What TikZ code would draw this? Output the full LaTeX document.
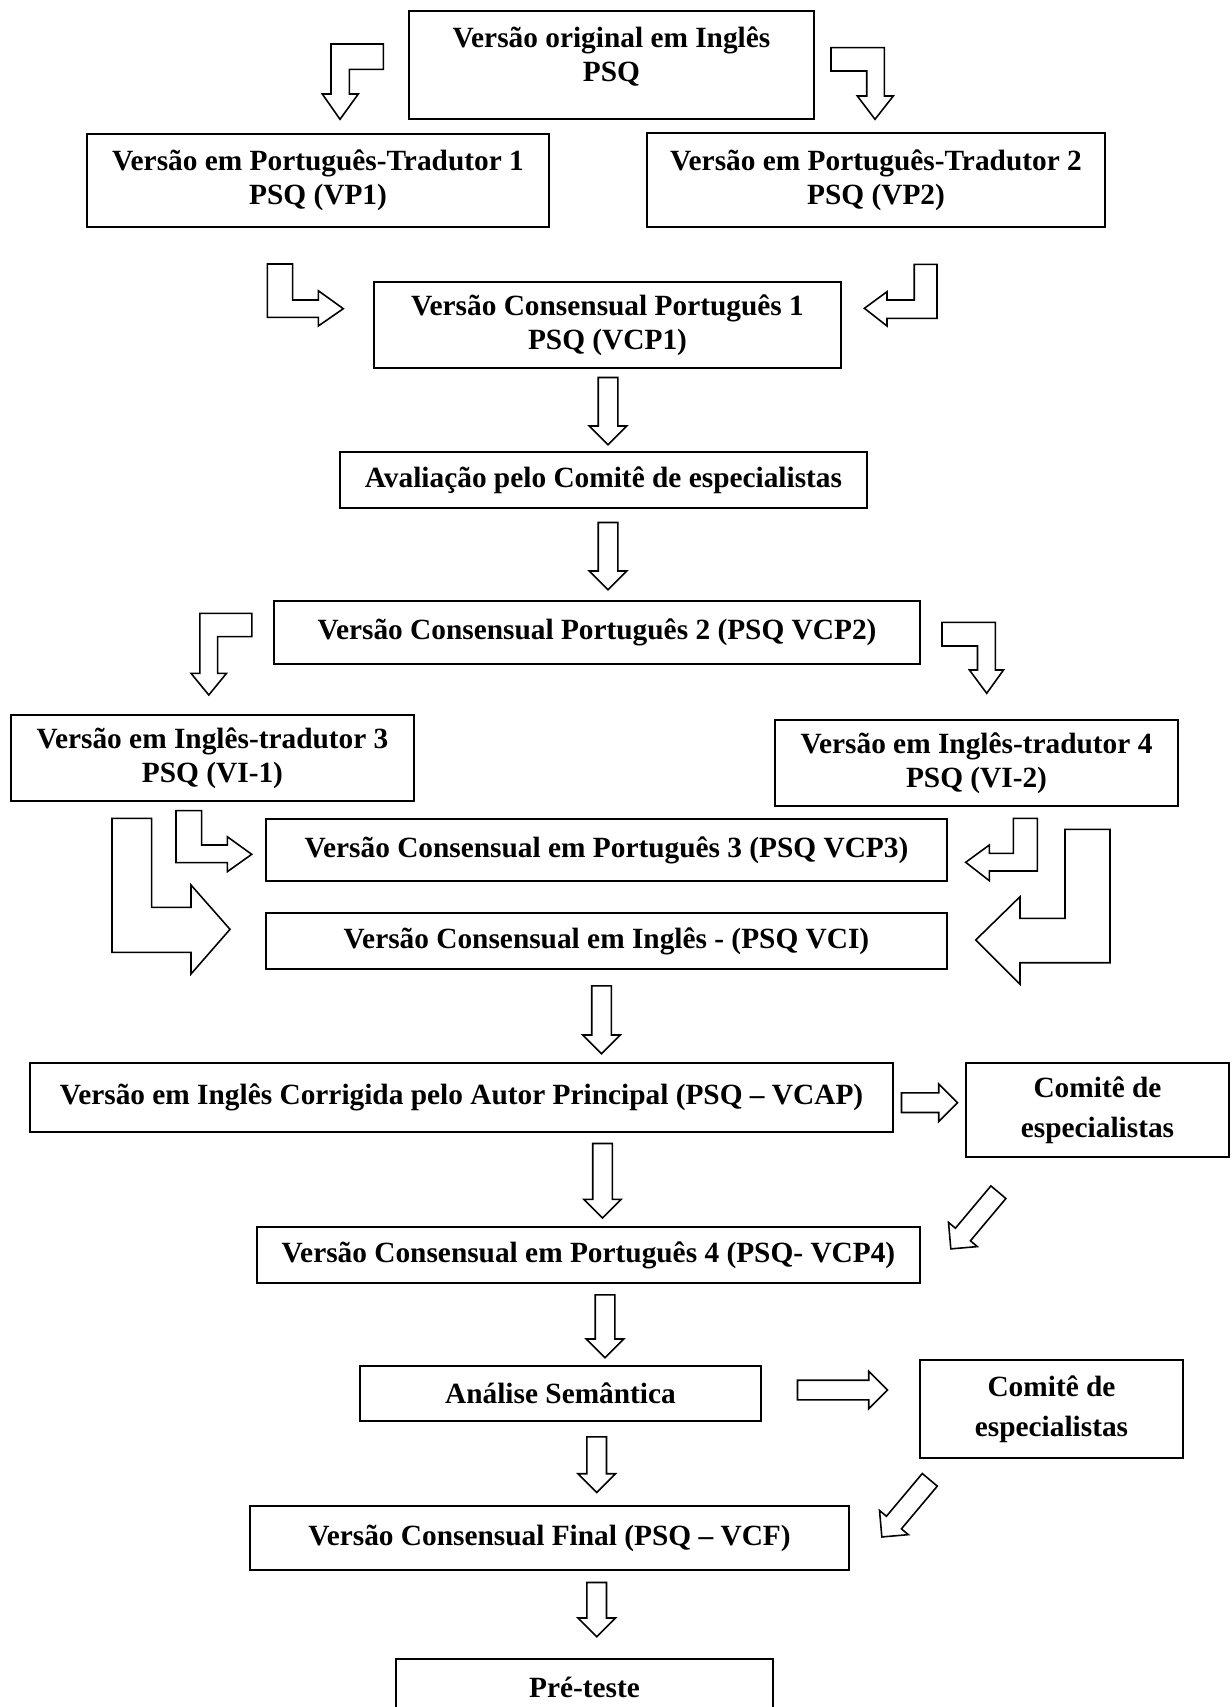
\documentclass[tikz,border=0pt]{standalone}
\usepackage{fontspec}
\setmainfont{Liberation Serif}
\usetikzlibrary{shapes.arrows, positioning}
\tikzstyle{boxtext} = [inner sep=0pt, align=center, font=\fontsize{16.7}{19.3}\selectfont\bfseries]
\tikzstyle{boxes} = [boxtext, rectangle, draw=black, line width=1.1pt]
\tikzstyle{widelines} = [font=\fontsize{16.7}{22.7}\selectfont\bfseries]
\tikzstyle{blockarrow} = [draw=black, line width=0.9pt, line join=miter]
\tikzstyle{straight} = [single arrow, draw=black, line width=0.9pt, inner sep=1.8mm,
single arrow head extend=1.8mm, single arrow tip angle=90, minimum width=0pt, anchor=tail]

\begin{document}
\begin{tikzpicture}[x=0.2mm, y=-0.2mm]

    \useasboundingbox (0,0) rectangle (1231,1707);

    \node (orig) [boxes, minimum width=81mm, minimum height=21.6mm] at (611.5,65) {};
    \node (origtext) [boxtext] at (611.5,56.5) {Versão original em Inglês\\PSQ};

    \node (vpa) [boxes, minimum width=92.4mm, minimum height=18.6mm] at (318,180.5) {Versão em Português-Tradutor 1\\PSQ (VP1)};

    \node (vpb) [boxes, minimum width=91.6mm, minimum height=18.8mm] at (876,180) {Versão em Português-Tradutor 2\\PSQ (VP2)};

    \node (vcpa) [boxes, minimum width=93.4mm, minimum height=17.2mm] at (607.5,325) {Versão Consensual Português 1\\PSQ (VCP1)};

    \node (aval) [boxes, minimum width=105.4mm, minimum height=11.2mm] at (603.5,480) {Avaliação pelo Comitê de especialistas};

    \node (vcpb) [boxes, minimum width=129.2mm, minimum height=12.6mm] at (597,632.5) {Versão Consensual Português 2 (PSQ VCP2)};

    \node (via) [boxes, minimum width=80.6mm, minimum height=17.2mm] at (212.5,758) {Versão em Inglês-tradutor 3\\PSQ (VI-1)};

    \node (vib) [boxes, minimum width=80.6mm, minimum height=17.2mm] at (976.5,763) {Versão em Inglês-tradutor 4\\PSQ (VI-2)};

    \node (vcpc) [boxes, minimum width=136.2mm, minimum height=12.4mm] at (606.5,850) {Versão Consensual em Português 3 (PSQ VCP3)};

    \node (vci) [boxes, minimum width=136.2mm, minimum height=11.2mm] at (606.5,941) {Versão Consensual em Inglês - (PSQ VCI)};

    \node (vcap) [boxes, minimum width=172.6mm, minimum height=13.8mm] at (461.5,1097.5) {Versão em Inglês Corrigida pelo Autor Principal (PSQ -- VCAP)};

    \node (coma) [boxes, widelines, minimum width=52.6mm, minimum height=18.8mm] at (1097.5,1110) {Comitê de\\especialistas};

    \node (vcpd) [boxes, minimum width=132.6mm, minimum height=11.2mm] at (588.5,1255) {Versão Consensual em Português 4 (PSQ- VCP4)};

    \node (anal) [boxes, minimum width=80.2mm, minimum height=11mm] at (560.5,1393.5) {Análise Semântica};

    \node (comb) [boxes, widelines, minimum width=52.6mm, minimum height=19.6mm] at (1051.5,1409) {Comitê de\\especialistas};

    \node (vcf) [boxes, minimum width=119.8mm, minimum height=12.8mm] at (549.5,1538) {Versão Consensual Final (PSQ -- VCF)};

    \node (pre) [boxes, minimum width=75.4mm, minimum height=11.4mm] at (584.5,1687.5) {Pré-teste};

    % straight block arrows
    \node (da1) [straight, rotate=-90, minimum height=13.46mm] at (608,376.7) {};
    \node (da2) [straight, rotate=-90, minimum height=13.46mm] at (608,521.7) {};
    \node (da3) [straight, rotate=-90, minimum height=13.6mm] at (601.5,985) {};
    \node (da4) [straight, rotate=-90, minimum height=14.92mm] at (602.5,1142.7) {};
    \node (da5) [straight, rotate=-90, minimum height=12.6mm] at (605,1294) {};
    \node (da6) [straight, rotate=-90, minimum height=11.14mm] at (596.7,1436) {};
    \node (da7) [straight, rotate=-90, minimum height=10.86mm] at (596.7,1581.7) {};
    \node (ra1) [straight, minimum height=11.2mm] at (900.7,1102.7) {};
    \node (ra2) [straight, minimum height=18mm] at (796.7,1390) {};
    \node (dga) [straight, rotate=230, minimum height=14.8mm] at (998.9,1191.6) {};
    \node (dgb) [straight, rotate=230, minimum height=14.92mm] at (930.3,1479.2) {};

    % bent block arrows
    \draw[blockarrow] (331,44) -- (383.3,44) -- (383.3,69.3) -- (349.3,69.3) -- (349.3,94) -- (358.3,94)
        -- (340,119.3) -- (322.3,94) -- (331,94) -- cycle;
    \draw[blockarrow] (831,47.7) -- (884.3,47.7) -- (884.3,96) -- (893.3,96) -- (875,119.3) -- (857.3,96)
        -- (866.7,96) -- (866.7,71) -- (831,71) -- cycle;
    \draw[blockarrow] (267.3,264) -- (292.7,264) -- (292.7,300) -- (318.3,300) -- (318.3,290.7)
        -- (343.3,308.7) -- (318.3,326) -- (318.3,317.3) -- (267.3,317.3) -- cycle;
    \draw[blockarrow] (914.2,264.3) -- (937,264.3) -- (937,318.3) -- (887,318.3) -- (887,326)
        -- (864.4,308.3) -- (887,291.7) -- (887,300) -- (914.2,300) -- cycle;
    \draw[blockarrow] (199.9,613.3) -- (251.9,613.3) -- (251.9,636.7) -- (217.7,636.7) -- (217.7,673.3)
        -- (226.5,673.3) -- (208.8,695) -- (191,673.3) -- (199.9,673.3) -- cycle;
    \draw[blockarrow] (942,622.3) -- (995.3,622.3) -- (995.3,670) -- (1003.5,670) -- (986.7,693.3)
        -- (969.4,670) -- (977.5,670) -- (977.5,646) -- (942,646) -- cycle;
    \draw[blockarrow] (176,810.7) -- (201.7,810.7) -- (201.7,845) -- (227.3,845) -- (227.3,836.7)
        -- (251.7,854.3) -- (227.3,871.7) -- (227.3,862.7) -- (176,862.7) -- cycle;
    \draw[blockarrow] (112,818.3) -- (151.7,818.3) -- (151.7,907.3) -- (191,907.3) -- (191,885)
        -- (230,929.3) -- (191,974) -- (191,952.3) -- (112,952.3) -- cycle;
    \draw[blockarrow] (1013.3,818.3) -- (1037.3,818.3) -- (1037.3,871) -- (989.3,871) -- (989.3,880.7)
        -- (965.7,862.3) -- (989.3,845) -- (989.3,853.3) -- (1013.3,853.3) -- cycle;
    \draw[blockarrow] (1065,829.3) -- (1110,829.3) -- (1110,962.7) -- (1020,962.7) -- (1020,984.3)
        -- (975.7,940) -- (1020,896.7) -- (1020,918.3) -- (1065,918.3) -- cycle;

\end{tikzpicture}
\end{document}
